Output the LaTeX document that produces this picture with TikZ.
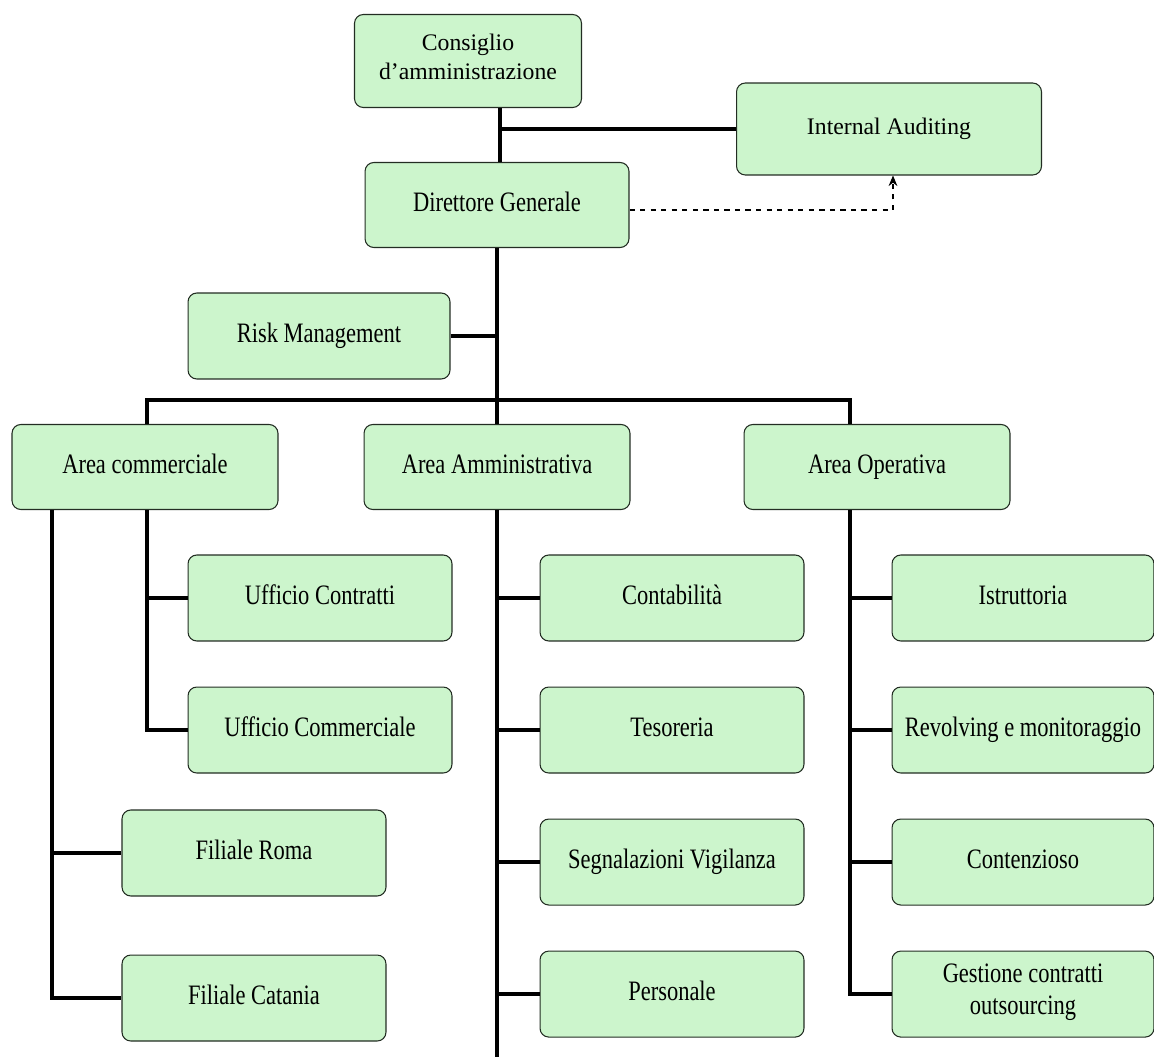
\documentclass[tikz,border=0pt]{standalone}
\usepackage{fontspec}
\setmainfont{Liberation Serif}
\newfontfamily\narrowfont[FakeStretch=0.8]{Liberation Serif}
\usepackage{tikz}
\usetikzlibrary{arrows,arrows.meta,positioning}
\definecolor{boxGreen}{RGB}{204,245,204}
\definecolor{boxLine}{RGB}{35,45,35}

\begin{document}
\begin{tikzpicture}[x=0.02cm, y=-0.02cm, >=stealth', node distance=0.9cm]
        \tikzset{
           unit/.style={
                        rectangle,
                        rounded corners=5pt,
                        draw=boxLine,
                        line width=0.6pt,
                        fill=boxGreen,
                        text=black,
                        minimum width=5.28cm,
                        minimum height=1.72cm,
                        align=center,
                        execute at begin node=\strut,
                        font=\narrowfont\fontsize{16}{18}\selectfont
                       },
           board/.style={
                        unit,
                        font=\fontsize{13.5}{16}\selectfont
                       },
           link/.style={
                        -,
                        line width=2.2pt,
                        black
                       },
           dashLink/.style={
                        -{Stealth[length=6pt, width=5pt]},
                        dashed,
                        semithick,
                        black
                       },
                 };
        \useasboundingbox (0,0) rectangle (1154,1057);
    %--------------------
        \node[board] (cda)      at (468,61)  [minimum width=4.54cm, minimum height=1.86cm] {Consiglio\\d’amministrazione};
        \node[board] (audit)    at (889,129) [minimum width=6.1cm, minimum height=1.84cm]  {Internal Auditing};
        \node[unit]  (dg)       at (497,205) [minimum height=1.7cm]                      {Direttore Generale};
        \node[unit]  (risk)     at (319,336) [minimum width=5.24cm]                      {Risk Management};

        \node[unit]  (areaC)    at (145,467) [minimum width=5.32cm, minimum height=1.7cm] {Area commerciale};
        \node[unit]  (areaA)    at (497,467) [minimum width=5.32cm, minimum height=1.7cm] {Area Amministrativa};
        \node[unit]  (areaO)    at (877,467) [minimum width=5.32cm, minimum height=1.7cm] {Area Operativa};

        \node[unit]  (uContr)   at (320,598)                 {Ufficio Contratti};
        \node[unit]  (uComm)    [below=of uContr]            {Ufficio Commerciale};
        \node[unit]  (fRoma)    at (254,853)                 {Filiale Roma};
        \node[unit]  (fCatania) [below=1.16cm of fRoma]      {Filiale Catania};

        \node[unit]  (contab)   at (672,598)                 {Contabilità};
        \node[unit]  (tesor)    [below=of contab]            {Tesoreria};
        \node[unit]  (segnal)   [below=of tesor]             {Segnalazioni Vigilanza};
        \node[unit]  (person)   [below=of segnal]            {Personale};

        \node[unit]  (istrut)   at (1023,598) [minimum width=5.24cm]         {Istruttoria};
        \node[unit]  (revolv)   [below=of istrut, minimum width=5.24cm]      {Revolving e monitoraggio};
        \node[unit]  (contenz)  [below=of revolv, minimum width=5.24cm]      {Contenzioso};
        \node[unit]  (gestione) [below=of contenz, minimum width=5.24cm]     {Gestione contratti\\outsourcing};
    %--------------------
        \coordinate (jAudit) at (500,129);
        \coordinate (bar)    at (497,400);
        \coordinate (comL)   at (52,0);
        \coordinate (comR)   at (147,0);
        \coordinate (opL)    at (850,0);
        \coordinate (admEnd) at (497,1057);

        \draw[link] (cda.south -| jAudit) -- (dg.north -| jAudit);
        \draw[link] (jAudit) -- (audit.west);
        \draw[link] (dg.south) -- (areaA.north);
        \draw[link] (risk.east) -- (risk.east -| dg.south);
        \draw[link] (areaC.north -| comR) |- (bar) -| (areaO.north -| opL);

        \foreach \kid in {uContr,uComm}
            \draw[link] (areaC.south -| comR) |- (\kid.west);
        \foreach \kid in {fRoma,fCatania}
            \draw[link] (areaC.south -| comL) |- (\kid.west);
        \draw[link] (areaA.south) -- (admEnd);
        \foreach \kid in {contab,tesor,segnal,person}
            \draw[link] (areaA.south) |- (\kid.west);
        \foreach \kid in {istrut,revolv,contenz,gestione}
            \draw[link] (areaO.south -| opL) |- (\kid.west);

        \draw[dashLink] ([yshift=-0.1cm]dg.east) -| ([xshift=0.08cm]audit.south);
    \end{tikzpicture}
\end{document}
